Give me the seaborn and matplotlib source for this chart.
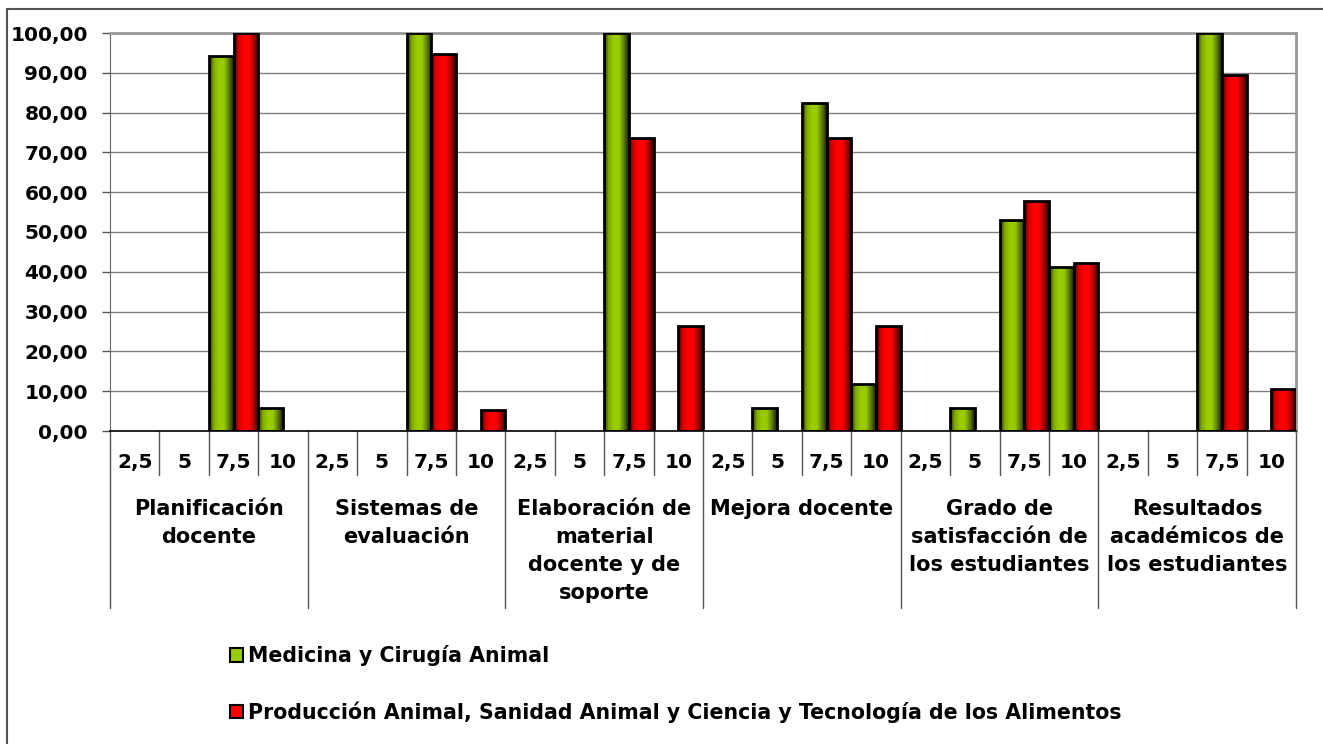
import numpy as np
import pandas as pd
import matplotlib
matplotlib.use("Agg")
import matplotlib.pyplot as plt
from matplotlib.colors import LinearSegmentedColormap
from matplotlib.patches import Patch
from matplotlib.lines import Line2D
from matplotlib.ticker import FuncFormatter
import seaborn as sns

# Data
groups = [
    "Planificación\ndocente",
    "Sistemas de\nevaluación",
    "Elaboración de\nmaterial\ndocente y de\nsoporte",
    "Mejora docente",
    "Grado de\nsatisfacción de\nlos estudiantes",
    "Resultados\nacadémicos de\nlos estudiantes",
]
scores = ["2,5", "5", "7,5", "10"]
series_names = [
    "Medicina y Cirugía Animal",
    "Producción Animal, Sanidad Animal y Ciencia y Tecnología de los Alimentos",
]
medicina = [0, 0, 94.12, 5.88,
            0, 0, 100.0, 0,
            0, 0, 100.0, 0,
            0, 5.88, 82.35, 11.76,
            0, 5.88, 52.94, 41.18,
            0, 0, 100.0, 0]
produccion = [0, 0, 100.0, 0,
              0, 0, 94.74, 5.26,
              0, 0, 73.68, 26.32,
              0, 0, 73.68, 26.32,
              0, 0, 57.89, 42.11,
              0, 0, 89.47, 10.53]

# long-form table
cats = [f"{g}|{s}" for g in groups for s in scores]
df = pd.DataFrame({
    "cat": cats * 2,
    "valor": medicina + produccion,
    "serie": [series_names[0]] * len(cats) + [series_names[1]] * len(cats),
})

colors = {series_names[0]: "#99CC00", series_names[1]: "#FF0000"}
grad_green = LinearSegmentedColormap.from_list(
    "g", [(0, "#1f2a00"), (0.18, "#7fa800"), (0.4, "#9acd00"),
          (0.6, "#99cc00"), (0.82, "#5a7800"), (1, "#141c00")])
grad_red = LinearSegmentedColormap.from_list(
    "r", [(0, "#3a0000"), (0.18, "#d40000"), (0.4, "#ff0000"),
          (0.6, "#ff0000"), (0.82, "#a00000"), (1, "#2a0000")])

sns.set_style("white")
plt.rcParams["font.family"] = ["DejaVu Sans"]
plt.rcParams["font.weight"] = "bold"
plt.rcParams["text.color"] = "black"
plt.rcParams["xtick.labelcolor"] = "black"
plt.rcParams["ytick.labelcolor"] = "black"

fig = plt.figure(figsize=(13.23, 7.44), dpi=100)
ax = fig.add_axes([110 / 1323, 1 - 431 / 744, (1296 - 110) / 1323, (431 - 33) / 744])

sns.barplot(data=df, x="cat", y="valor", hue="serie", order=cats,
            hue_order=series_names, palette=colors, width=1.0, gap=0,
            edgecolor="black", linewidth=2, saturation=1, legend=False, ax=ax)

# gradient fill for each bar
grad = np.linspace(0, 1, 64).reshape(1, -1)
n = len(cats)
for i, bar in enumerate(ax.patches):
    h = bar.get_height()
    if h <= 0:
        bar.set_visible(False)
        continue
    cmap = grad_green if i < n else grad_red
    x0, w = bar.get_x(), bar.get_width()
    im = ax.imshow(grad, cmap=cmap, aspect="auto", extent=(x0, x0 + w, 0, h),
                   zorder=2, interpolation="bilinear")
    im.set_clip_path(bar)
    bar.set_facecolor("none")
    bar.set_zorder(3)

ax.set_xlim(-0.5, n - 0.5)
ax.set_ylim(0, 100)
ax.set_yticks(np.arange(0, 101, 10))
ax.yaxis.set_major_formatter(FuncFormatter(lambda v, p: f"{v:.2f}".replace(".", ",")))
ax.set_xticks(range(n))
ax.set_xticklabels(scores * len(groups))
ax.tick_params(axis="x", length=0, pad=16, labelsize=14.5, labelcolor="black")
ax.tick_params(axis="y", length=6, width=1, color="#555555", pad=10, labelsize=14.5,
               labelcolor="black", left=True)
for lab in ax.get_xticklabels() + ax.get_yticklabels():
    lab.set_fontweight("bold")
ax.set_xlabel("")
ax.set_ylabel("")

ax.yaxis.grid(True, color="#808080", lw=1)
ax.set_axisbelow(True)
ax.spines["top"].set_color("#999999")
ax.spines["top"].set_linewidth(2)
ax.spines["right"].set_color("#999999")
ax.spines["right"].set_linewidth(2)
ax.spines["left"].set_color("#666666")
ax.spines["bottom"].set_color("black")
ax.spines["bottom"].set_linewidth(1.2)

# multi-level category axis
tr = ax.get_xaxis_transform()
for k in range(n + 1):
    x = k - 0.5
    if k % 4 == 0:
        ax.plot([x, x], [0, -0.445], transform=tr, color="#555555", lw=1, clip_on=False)
    else:
        ax.plot([x, x], [0, -0.11], transform=tr, color="#555555", lw=1, clip_on=False)
for g, name in enumerate(groups):
    ax.text(4 * g + 1.5, -0.172, name, transform=tr, ha="center", va="top", color="black",
            fontsize=15, fontweight="bold", linespacing=1.5, multialignment="center")

# legend
handles = [Patch(facecolor=colors[s], edgecolor="black", lw=1.5) for s in series_names]
fig.legend(handles, series_names, loc="center left", bbox_to_anchor=(230 / 1323, 1 - 684 / 744),
           frameon=False, borderpad=0, borderaxespad=0, handlelength=0.62, handleheight=0.62,
           handletextpad=0.25, labelspacing=1.7, labelcolor="black",
           prop={"size": 14.8, "weight": "bold"})

# outer chart border (top and left only visible)
fig.add_artist(Line2D([7 / 1323, 1], [1 - 9 / 744, 1 - 9 / 744], transform=fig.transFigure,
                      color="#555555", lw=1.5))
fig.add_artist(Line2D([7 / 1323, 7 / 1323], [0, 1 - 9 / 744], transform=fig.transFigure,
                      color="#555555", lw=1.5))

fig.savefig("out.png", dpi=100, facecolor="white")
